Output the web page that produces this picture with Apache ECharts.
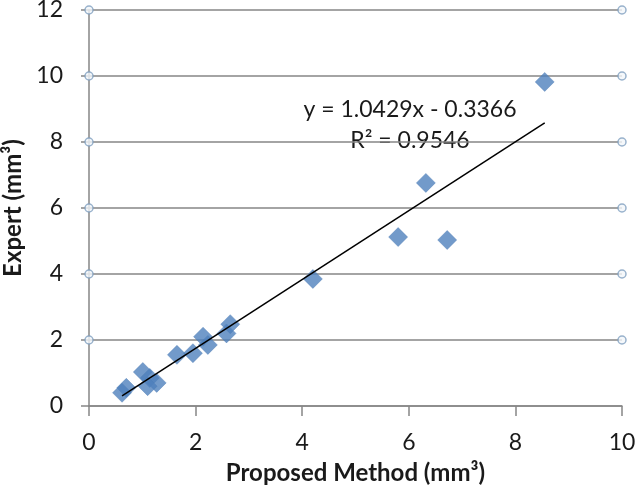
<!DOCTYPE html>
<html><head><meta charset="utf-8">
<script src="https://cdn.jsdelivr.net/npm/echarts@6/dist/echarts.min.js"></script>
<style>html,body{margin:0;padding:0;background:#fff}#c{width:642px;height:498px}</style>
</head><body><div id="c"></div>
<script>
const proposed = [0.62, 0.70, 1.01, 1.14, 1.27, 1.10, 1.65, 1.95, 2.14, 2.23, 2.58, 2.65, 4.20, 5.80, 6.32, 6.72, 8.55];
const expert   = [0.40, 0.55, 1.03, 0.85, 0.70, 0.60, 1.55, 1.60, 2.10, 1.85, 2.20, 2.48, 3.85, 5.12, 6.76, 5.03, 9.82];
const slope = 1.0429, intercept = -0.3366, r2 = 0.9546;
const trendX = [0.62, 8.55];
const xTicks = [0, 2, 4, 6, 8, 10];
const yTicks = [0, 2, 4, 6, 8, 10, 12];
const gridEndY = [2, 4, 6, 8, 10, 12];

const pts = proposed.map((x, i) => [x, expert[i]]);
const trend = trendX.map(x => [x, slope * x + intercept]);
const ends = [];
gridEndY.forEach(y => { ends.push([xTicks[0], y]); ends.push([xTicks[xTicks.length - 1], y]); });

const font = 'Lato, "Open Sans", sans-serif';
const chart = echarts.init(document.getElementById('c'), null, {renderer: 'canvas'});
chart.setOption({
  animation: false,
  grid: {left: 89, right: 20, top: 10, bottom: 92, containLabel: false, outerBoundsMode: 'none'},
  xAxis: {
    type: 'value', min: 0, max: 10, interval: 2,
    name: 'Proposed Method (mm³)', nameLocation: 'middle', nameGap: 55,
    nameTextStyle: {fontFamily: font, fontWeight: 'bold', fontSize: 24, color: '#1a1a1a'},
    axisLine: {lineStyle: {color: '#868686', width: 1.5}},
    axisTick: {show: true, length: 10, lineStyle: {color: '#868686', width: 1.5}},
    axisLabel: {fontFamily: font, fontSize: 23, color: '#1a1a1a', margin: 25},
    splitLine: {show: false}
  },
  yAxis: {
    type: 'value', min: 0, max: 12, interval: 2,
    name: 'Expert (mm³)', nameLocation: 'middle', nameGap: 62,
    nameTextStyle: {fontFamily: font, fontWeight: 'bold', fontSize: 24, color: '#1a1a1a'},
    axisLine: {show: true, lineStyle: {color: '#868686', width: 1.5}},
    axisTick: {show: true, length: 8, lineStyle: {color: '#868686', width: 1.5}},
    axisLabel: {fontFamily: font, fontSize: 23, color: '#1a1a1a', margin: 26},
    splitLine: {show: true, lineStyle: {color: '#868686', width: 1.5}}
  },
  series: [
    {type: 'scatter', data: ends, symbol: 'circle', symbolSize: 8, z: 1,
     itemStyle: {color: '#f2f6fa', borderColor: '#7f9fbf', borderWidth: 1.5}, silent: true},
    {type: 'scatter', data: pts, symbol: 'diamond', symbolSize: [19, 19], z: 3,
     itemStyle: {color: '#4f81bd', borderColor: '#4a7ab3', borderWidth: 0.5}},
    {type: 'line', data: trend, showSymbol: false, symbol: 'none', z: 4,
     lineStyle: {color: '#000', width: 1.5}}
  ],
  graphic: [
    {type: 'text', x: 410, y: 110, style: {text: 'y = ' + slope.toFixed(4) + 'x - ' + Math.abs(intercept).toFixed(4), align: 'center', verticalAlign: 'middle', fontFamily: font, fontSize: 23, fill: '#1a1a1a'}},
    {type: 'text', x: 410, y: 141, style: {text: 'R² = ' + r2.toFixed(4), align: 'center', verticalAlign: 'middle', fontFamily: font, fontSize: 23, fill: '#1a1a1a'}}
  ]
});
</script></body></html>
